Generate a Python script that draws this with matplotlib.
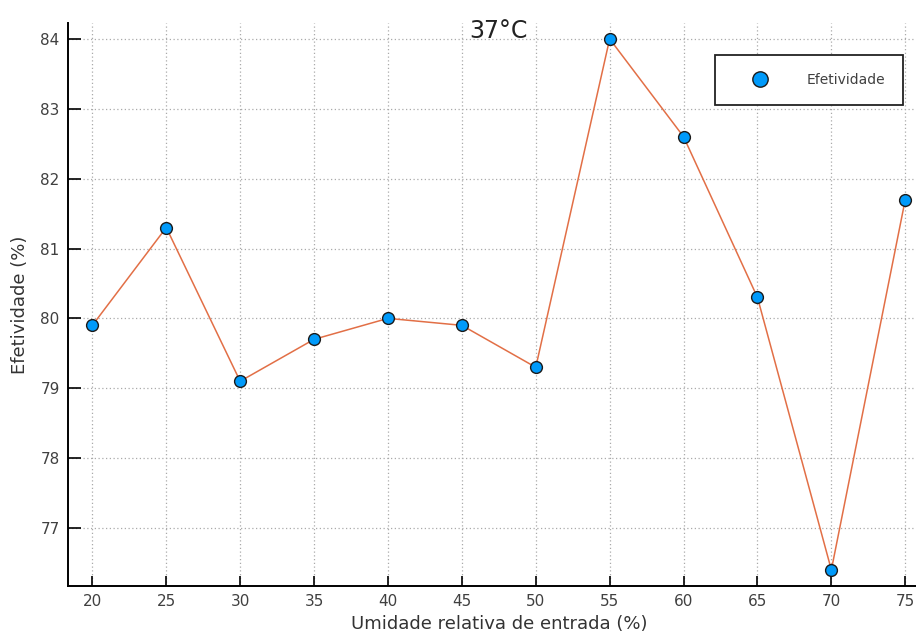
import matplotlib
matplotlib.use("Agg")
import matplotlib.pyplot as plt

umidade = [20, 25, 30, 35, 40, 45, 50, 55, 60, 65, 70, 75]
efetividade = [79.9, 81.3, 79.1, 79.7, 80.0, 79.9, 79.3, 84.0, 82.6, 80.3, 76.4, 81.7]
xticks = [20, 25, 30, 35, 40, 45, 50, 55, 60, 65, 70, 75]
yticks = [77, 78, 79, 80, 81, 82, 83, 84]

plt.rcParams['font.family'] = ['DejaVu Sans']
fig = plt.figure(figsize=(9.16, 6.37), dpi=100)
ax = fig.add_axes([0.0742, 0.0804, 0.9407, 0.8835])

ax.plot(umidade, efetividade, color='#E26F46', lw=1.1, zorder=2)
ax.plot(umidade, efetividade, ls='none', marker='o', ms=8.5, mfc='#009AFA',
        mec='#1a1a1a', mew=1.0, zorder=3, label='Efetividade')

xr = max(umidade) - min(umidade)
yr = max(efetividade) - min(efetividade)
ax.set_xlim(min(umidade) - 0.03 * xr, max(umidade) + 0.03 * xr)
ax.set_ylim(min(efetividade) - 0.03 * yr, max(efetividade) + 0.03 * yr)
ax.set_xticks(xticks)
ax.set_yticks(yticks)
ax.tick_params(axis='y', direction='in', length=9, width=1.2, labelsize=11,
               labelcolor='#404040', pad=6)
ax.tick_params(axis='x', direction='in', length=7, width=1.2, labelsize=11,
               labelcolor='#404040', pad=6)
for s in ['top', 'right']:
    ax.spines[s].set_visible(False)
for s in ['left', 'bottom']:
    ax.spines[s].set_linewidth(1.4)
ax.grid(True, ls=(0, (1, 2)), color='#aaaaaa', lw=0.9)

ax.set_xlabel('Umidade relativa de entrada (%)', fontsize=13, color='#333333', labelpad=4)
ax.set_ylabel('Efetividade (%)', fontsize=13, color='#333333', labelpad=8)
fig.text(0.544, 0.952, '37°C', ha='center', va='center', fontsize=17, color='#222222')

leg = ax.legend(loc='upper right', bbox_to_anchor=(0.969, 0.943), fontsize=10,
                frameon=True, fancybox=False, borderpad=1.3, handletextpad=1.3,
                borderaxespad=0, markerscale=1.3, handlelength=4.0)
leg.get_frame().set_edgecolor('#222222')
leg.get_frame().set_linewidth(1.3)
leg.get_frame().set_alpha(1)
for t in leg.get_texts():
    t.set_color('#404040')

fig.savefig('out.png', dpi=100)
